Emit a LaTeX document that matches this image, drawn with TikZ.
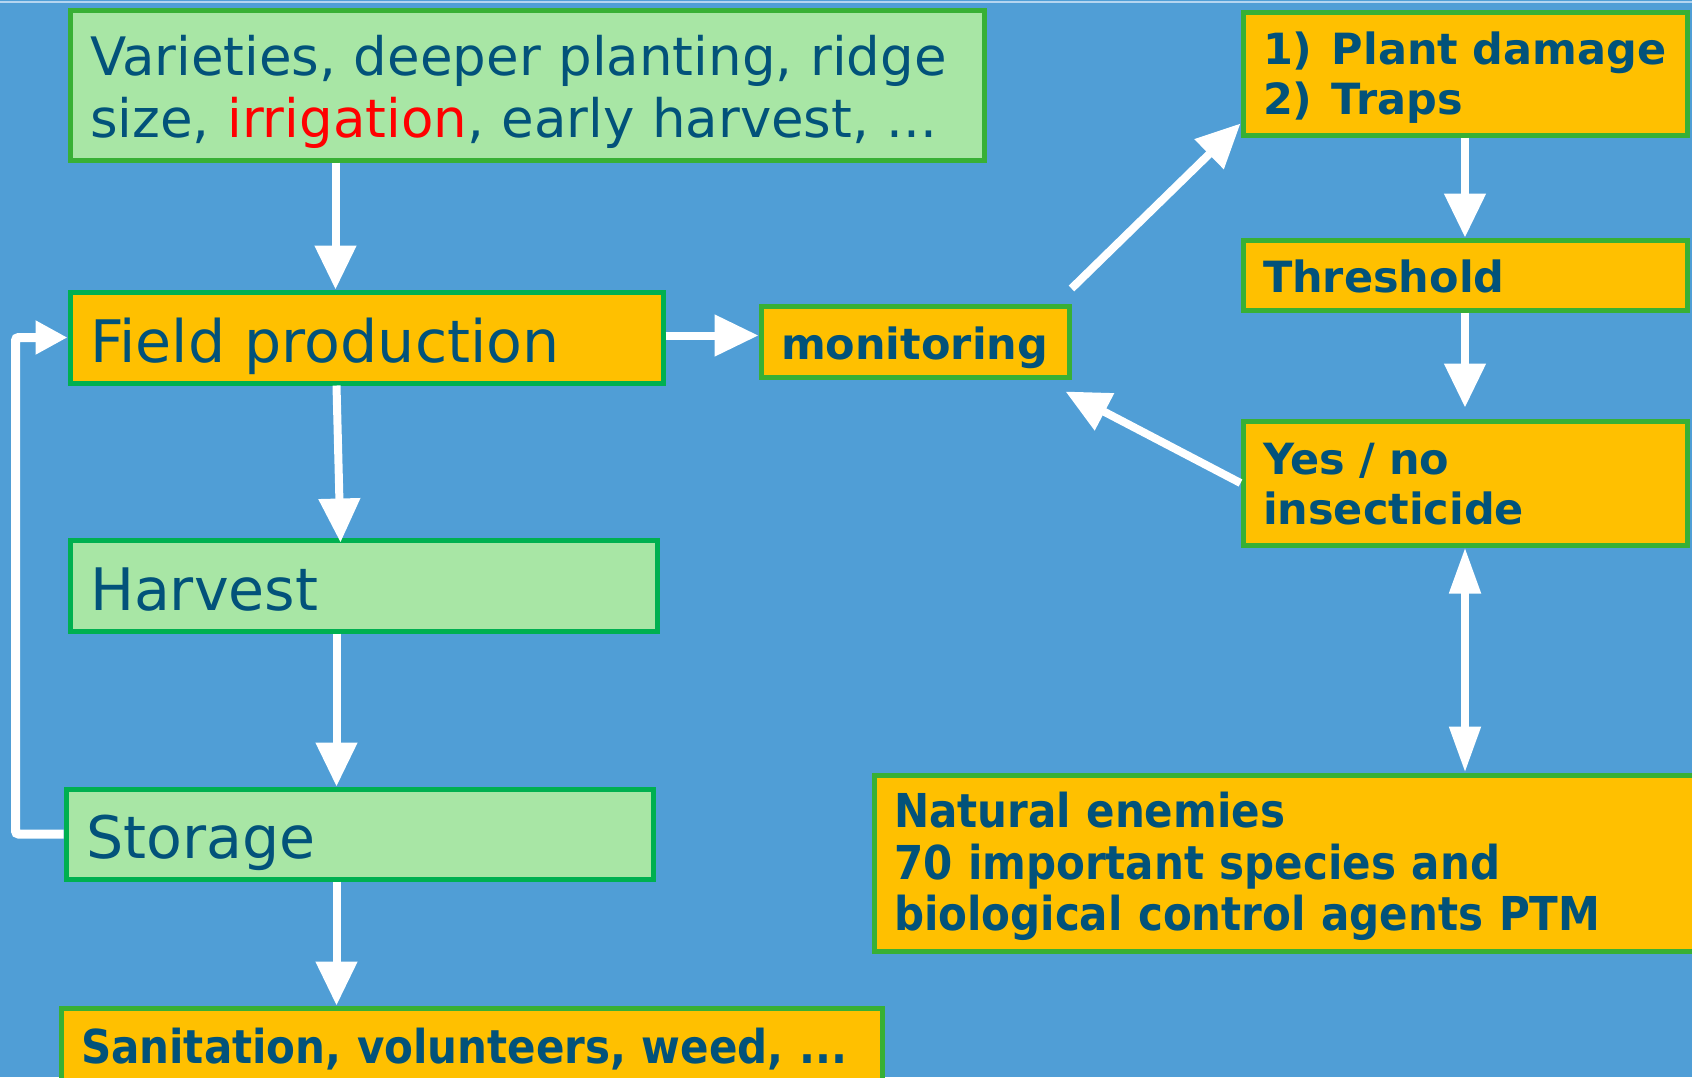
\documentclass[tikz,border=0pt]{standalone}
\usepackage{fontspec}
\setmainfont{DejaVu Sans}
\newfontfamily\condfont{DejaVu Sans Condensed}
\usetikzlibrary{arrows.meta}

\definecolor{slideblue}{HTML}{509ED6}
\definecolor{lightgreen}{HTML}{A8E6A5}
\definecolor{boxorange}{HTML}{FFC000}
\definecolor{framegreen}{HTML}{38B035}
\definecolor{darkgreen}{HTML}{00B050}
\definecolor{inkblue}{HTML}{02527A}
\definecolor{topline}{HTML}{B5D5F0}

\tikzset{
  box/.style={draw=framegreen, line width=5pt, inner xsep=20pt, inner ysep=0pt,
    align=left, text=inkblue},
  greenbox/.style={box, fill=lightgreen},
  orangebox/.style={box, fill=boxorange},
  % first baseline sits (#1-#2)/2 below the centre
  textpos/.style 2 args={text height=#1, text depth=#2},
  bigtext/.style={font=\fontsize{58.6}{64}\selectfont},
  boldtext/.style={font=\fontsize{43}{50}\selectfont\bfseries},
  condtext/.style={font=\fontsize{46.7}{51.5}\selectfont\condfont\bfseries},
  arr/.style={draw=white, line width=8pt, -{Triangle[width=40pt,length=44pt]}},
  looparr/.style={draw=white, line width=9pt, rounded corners=3pt,
    -{Triangle[width=32pt,length=32pt]}},
  botharr/.style={draw=white, line width=8pt,
    {Triangle[width=30pt,length=46pt]}-{Triangle[width=30pt,length=46pt]}}
}

\begin{document}
\begin{tikzpicture}[x=1pt,y=-1pt]
    % background of the slide
    \fill[slideblue] (0,0) rectangle (1692,1077);
    \useasboundingbox (0,0) rectangle (1692,1077);
    \draw[topline, line width=2pt] (0,2) -- (1692,2);

    % left column
    \node[greenbox, font=\fontsize{53}{62}\selectfont, textpos={0pt}{19pt}, minimum width=914pt,
      minimum height=150pt, text width=874pt] (vari) at (527,85)
      {Varieties, deeper planting, ridge\\ size, \textcolor{red}{irrigation}, early harvest, ...};
    \node[orangebox, draw=darkgreen, bigtext, textpos={50pt}{0pt}, minimum width=593pt,
      minimum height=91pt, text width=553pt] (field) at (366.5,337.5) {Field production};
    \node[greenbox, draw=darkgreen, bigtext, textpos={50pt}{0pt}, minimum width=587pt,
      minimum height=91pt, text width=547pt] (harv) at (363.5,585.5) {Harvest};
    \node[greenbox, draw=darkgreen, bigtext, textpos={48pt}{0pt}, minimum width=587pt,
      minimum height=90pt, text width=547pt] (stor) at (359.5,834) {Storage};
    \node[orangebox, condtext, textpos={28pt}{0pt}, minimum width=821pt, minimum height=82pt,
      text width=781pt] (sani) at (471.5,1049) {Sanitation, volunteers, weed, ...};

    % right side
    \node[orangebox, boldtext, textpos={35pt}{0pt}, minimum width=308pt, minimum height=71pt,
      text width=268pt] (moni) at (915,341.5) {monitoring};
    \node[orangebox, boldtext, textpos={0pt}{17.6pt}, minimum width=444pt, minimum height=123pt,
      text width=404pt] (dama) at (1465,73.5) {1)\hspace{0.45em}Plant damage\\2)\hspace{0.45em}Traps};
    \node[orangebox, boldtext, textpos={35pt}{0pt}, minimum width=444pt, minimum height=70pt,
      text width=404pt] (thre) at (1465,275) {Threshold};
    \node[orangebox, boldtext, textpos={0pt}{16.4pt}, minimum width=444pt, minimum height=124pt,
      text width=404pt] (yesn) at (1465,483) {Yes / no\\insecticide};
    \node[orangebox, condtext, textpos={0pt}{71pt}, minimum width=821pt, minimum height=176pt,
      text width=781pt] (natu) at (1284.5,863)
      {Natural enemies\\70 important species and\\biological control agents PTM};

    % arrows
    \draw[arr] ([xshift=268pt]vari.south west) -- ([xshift=268pt]field.north west);
    \draw[arr] ([xshift=269pt]field.south west) -- ([xshift=273pt,yshift=-5pt]harv.north west);
    \draw[arr] ([xshift=269pt]harv.south west) -- ([xshift=273pt]stor.north west);
    \draw[arr] ([xshift=273pt]stor.south west) -- ([xshift=278pt]sani.north west);
    \draw[looparr] (stor.west) -- ++(-48,0) |- (field.west);
    \draw[arr] ([yshift=2pt]field.east) -- ([yshift=2pt]field.east -| moni.west);
    \draw[arr] ([yshift=15pt]moni.north east) -- ([yshift=14pt]dama.south west);
    \draw[arr] (yesn.west) -- ([xshift=-6pt,yshift=-12pt]moni.south east);
    \draw[arr] (dama.south) -- (thre.north);
    \draw[arr, shorten >=11pt] (thre.south) -- (yesn.north);
    \draw[botharr] (yesn.south) -- (yesn.south |- natu.north);
\end{tikzpicture}
\end{document}
